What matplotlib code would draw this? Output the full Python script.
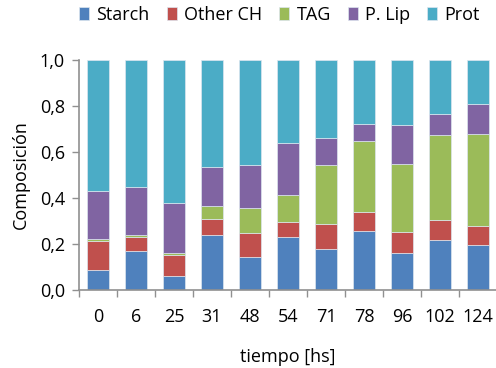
import matplotlib
matplotlib.use("Agg")
import matplotlib.pyplot as plt
import numpy as np
from matplotlib.ticker import FuncFormatter

plt.rcParams['font.family'] = ['Open Sans', 'DejaVu Sans']

tiempo = ['0', '6', '25', '31', '48', '54', '71', '78', '96', '102', '124']
# cumulative tops
starch_top = [0.087, 0.168, 0.062, 0.238, 0.143, 0.229, 0.180, 0.255, 0.161, 0.217, 0.197]
other_top = [0.214, 0.229, 0.151, 0.310, 0.249, 0.297, 0.286, 0.338, 0.254, 0.304, 0.280]
tag_top = [0.223, 0.239, 0.159, 0.365, 0.357, 0.412, 0.542, 0.648, 0.549, 0.675, 0.677]
plip_top = [0.432, 0.449, 0.377, 0.533, 0.545, 0.638, 0.662, 0.722, 0.719, 0.767, 0.807]

starch = np.array(starch_top)
other = np.array(other_top) - np.array(starch_top)
tag = np.array(tag_top) - np.array(other_top)
plip = np.array(plip_top) - np.array(tag_top)
prot = 1.0 - np.array(plip_top)

series = [('Starch', starch, '#4F81BD'),
          ('Other CH', other, '#C0504D'),
          ('TAG', tag, '#9BBB59'),
          ('P. Lip', plip, '#8064A2'),
          ('Prot', prot, '#4BACC6')]

fs = 13

fig = plt.figure(figsize=(4.96, 3.68), dpi=100)
ax = fig.add_axes([0.159, 0.212, 0.843, 0.625])

x = np.arange(len(tiempo))
bottom = np.zeros(len(tiempo))
for name, vals, col in series:
    ax.bar(x, vals, bottom=bottom, width=0.58, color=col, label=name,
           edgecolor='#dde6ef', linewidth=0.5)
    bottom += vals

ax.set_xlim(-0.5, len(tiempo) - 0.5)
ax.set_ylim(0, 1.0)
ax.set_yticks(np.arange(0, 1.01, 0.2))
ax.yaxis.set_major_formatter(FuncFormatter(lambda v, p: f"{v:.1f}".replace('.', ',')))
ax.set_xticks(x)
ax.set_xticklabels(tiempo)
ax.set_xticks(np.arange(-0.5, len(tiempo), 1), minor=True)
ax.tick_params(axis='x', which='major', length=0, pad=13, labelsize=fs)
ax.tick_params(axis='x', which='minor', length=5, color='#909090', width=1)
ax.tick_params(axis='y', length=5, color='#909090', width=1, labelsize=fs, pad=5)

for s in ['top', 'right']:
    ax.spines[s].set_visible(False)
for s in ['left', 'bottom']:
    ax.spines[s].set_color('#909090')
    ax.spines[s].set_linewidth(1.2)

ax.set_ylabel('Composición', fontsize=fs, labelpad=7)
ax.set_xlabel('tiempo [hs]', fontsize=fs, labelpad=16)

fig.legend(loc='center left', bbox_to_anchor=(0.16, 0.959), ncol=5, frameon=False,
           fontsize=fs, handlelength=0.55, handleheight=0.7, handletextpad=0.4,
           columnspacing=0.95, borderaxespad=0, borderpad=0)

fig.savefig('out.png', dpi=100)
